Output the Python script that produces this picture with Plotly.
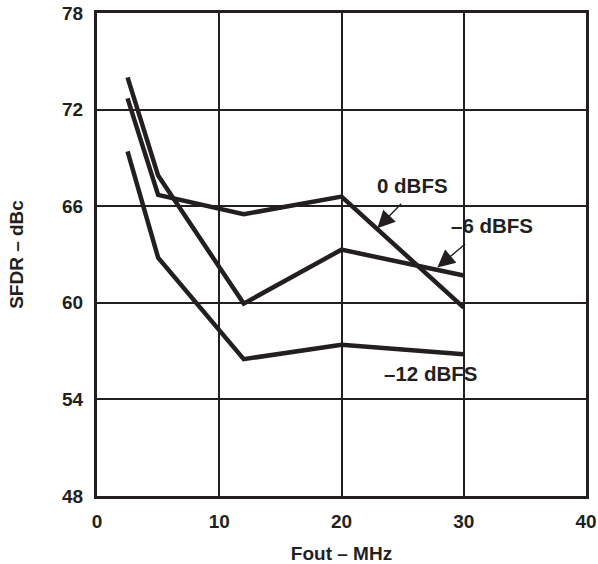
import plotly.graph_objects as go

fout_mhz = [2.5, 5, 12, 20, 30]
sfdr_0dbfs = [72.7, 66.7, 65.5, 66.6, 59.7]
sfdr_m6dbfs = [74.0, 67.9, 59.95, 63.3, 61.7]
sfdr_m12dbfs = [69.4, 62.8, 56.5, 57.4, 56.8]

x_ticks = [0, 10, 20, 30, 40]
y_ticks = [48, 54, 60, 66, 72, 78]

ink = "#231f20"
font = "Liberation Sans, Arial, sans-serif"

fig = go.Figure()
for ys in (sfdr_0dbfs, sfdr_m6dbfs, sfdr_m12dbfs):
    fig.add_trace(go.Scatter(x=fout_mhz, y=ys, mode="lines",
                             line=dict(color=ink, width=4.5), showlegend=False,
                             hoverinfo="skip"))

ann_font = dict(family=font, size=20.5, color=ink)
fig.add_annotation(x=25.77, y=67.29, text="<b>0 dBFS</b>", showarrow=False, font=ann_font)
fig.add_annotation(x=32.35, y=64.83, text="<b>–6 dBFS</b>", showarrow=False, font=ann_font)
fig.add_annotation(x=27.24, y=55.61, text="<b>–12 dBFS</b>", showarrow=False, font=ann_font)
fig.add_annotation(x=22.93, y=64.63, ax=25.0, ay=66.24, axref="x", ayref="y",
                   text="", showarrow=True, arrowhead=2, arrowsize=2.5,
                   arrowwidth=1.4, arrowcolor=ink)
fig.add_annotation(x=27.84, y=62.2, ax=30.24, ay=63.73, axref="x", ayref="y",
                   text="", showarrow=True, arrowhead=2, arrowsize=2.5,
                   arrowwidth=1.4, arrowcolor=ink)

axis_common = dict(showgrid=True, gridcolor=ink, gridwidth=2.2,
                   showline=True, linecolor=ink, linewidth=3, mirror=True,
                   zeroline=False, ticks="", automargin=False,
                   ticklabeloverflow="allow",
                   tickfont=dict(family=font, size=19, color=ink))

fig.update_xaxes(range=[0, 40], tickvals=x_ticks,
                 ticktext=[f"<b>{v}</b>" for v in x_ticks],
                 title=dict(text="<b>Fout – MHz</b>", font=dict(family=font, size=19, color=ink),
                            standoff=18),
                 ticklabelstandoff=6, **axis_common)
fig.update_yaxes(range=[48, 78], tickvals=y_ticks,
                 ticktext=[f"<b>{v}</b>" for v in y_ticks],
                 title=dict(text="<b>SFDR – dBc</b>", font=dict(family=font, size=19, color=ink),
                            standoff=34),
                 ticklabelstandoff=7, **axis_common)

fig.update_layout(width=598, height=564,
                  margin=dict(l=97, r=12, t=13, b=68),
                  plot_bgcolor="white", paper_bgcolor="white")

# remove the default 8px page margin so the figure fills the window exactly
fig.write_html("out.html", config={"displayModeBar": False},
               post_script="document.body.style.margin='0';document.body.style.overflow='hidden';")
